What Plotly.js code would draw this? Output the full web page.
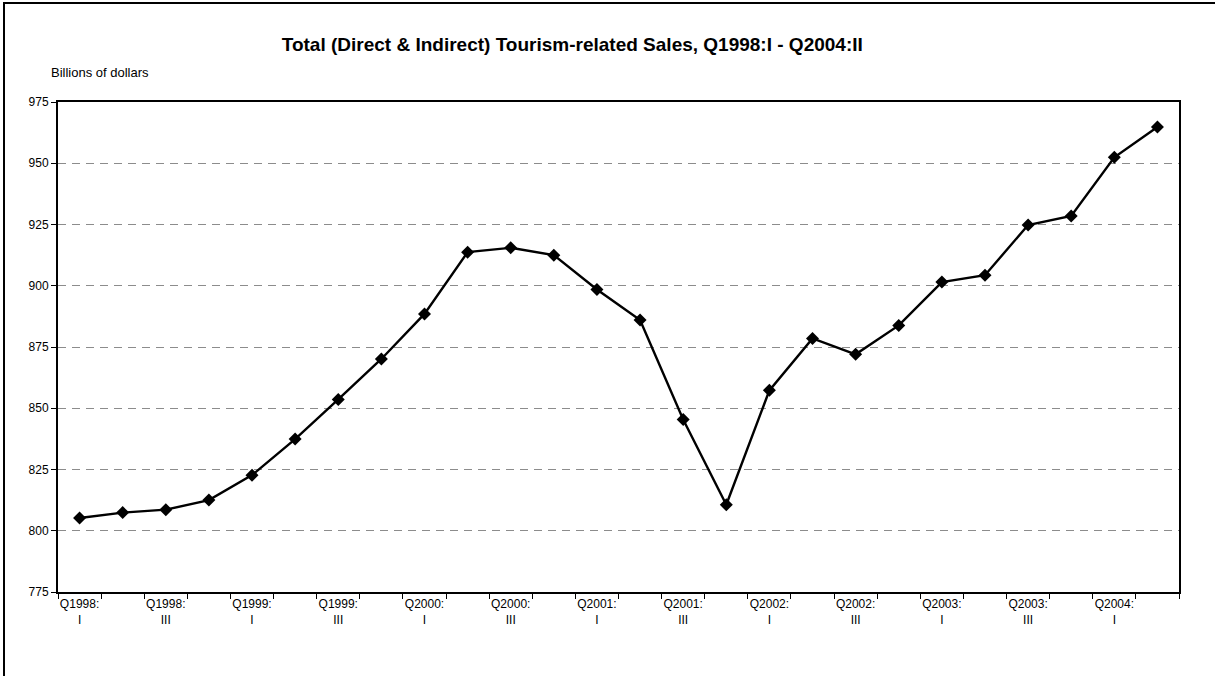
<!DOCTYPE html>
<html>
<head>
<meta charset="utf-8">
<script src="https://cdn.plot.ly/plotly-3.0.1.min.js"></script>
<style>
  html, body { margin: 0; padding: 0; width: 1215px; height: 676px; overflow: hidden; background: #fff; }
  #frame { position: absolute; left: 3px; top: 2px; width: 1400px; height: 900px; border: 2px solid #000; box-sizing: border-box; pointer-events: none; }
  #chart { position: absolute; left: 0; top: 0; width: 1215px; height: 676px; }
</style>
</head>
<body>
<div id="chart"></div>
<div id="frame"></div>
<script>
const quarters = [
  "Q1998:I","Q1998:II","Q1998:III","Q1998:IV",
  "Q1999:I","Q1999:II","Q1999:III","Q1999:IV",
  "Q2000:I","Q2000:II","Q2000:III","Q2000:IV",
  "Q2001:I","Q2001:II","Q2001:III","Q2001:IV",
  "Q2002:I","Q2002:II","Q2002:III","Q2002:IV",
  "Q2003:I","Q2003:II","Q2003:III","Q2003:IV",
  "Q2004:I","Q2004:II"
];
const sales = [
  805.2, 807.4, 808.6, 812.5,
  822.7, 837.4, 853.6, 870.1,
  888.5, 913.7, 915.5, 912.5,
  898.5, 886.0, 845.4, 810.6,
  857.3, 878.5, 872.0, 883.8,
  901.5, 904.3, 924.8, 928.5,
  952.4, 964.8
];
const yTicks = [775, 800, 825, 850, 875, 900, 925, 950, 975];
const titleText = "Total (Direct & Indirect) Tourism-related Sales, Q1998:I - Q2004:II";
const yUnit = "Billions of dollars";

// label every other quarter, split into two lines
const tickText = quarters.map((q, i) => {
  if (i % 2 !== 0) return "";
  const parts = q.split(":");
  return parts[0] + ":<br>" + parts[1];
});

const trace = {
  type: "scatter",
  mode: "lines+markers",
  x: quarters,
  y: sales,
  line: { color: "#000", width: 2.4 },
  marker: { symbol: "diamond", color: "#000", size: 10 },
  hoverinfo: "x+y"
};

const layout = {
  width: 1215, height: 676,
  margin: { l: 58, r: 36, t: 102, b: 84 },
  paper_bgcolor: "rgba(0,0,0,0)",
  plot_bgcolor: "#fff",
  showlegend: false,
  font: { family: "Liberation Sans, Arial, sans-serif", size: 12, color: "#000" },
  title: {
    text: "<b>" + titleText + "</b>",
    font: { family: "Liberation Sans, Arial, sans-serif", size: 19, color: "#000" },
    xref: "container", x: 0.471, xanchor: "center",
    yref: "container", y: 0.935, yanchor: "middle"
  },
  xaxis: {
    type: "category",
    tickmode: "array",
    tickvals: quarters,
    ticktext: tickText,
    tickson: "boundaries",
    ticks: "outside", ticklen: 5, tickwidth: 1, tickcolor: "#000",
    showline: true, linecolor: "#000", linewidth: 2, mirror: true,
    showgrid: false, zeroline: false,
    tickangle: 0,
    tickfont: { size: 12, color: "#000" },
    range: [-0.5, quarters.length - 0.5]
  },
  yaxis: {
    range: [775, 975],
    tickmode: "array",
    tickvals: yTicks,
    ticks: "outside", ticklen: 5, tickwidth: 1, tickcolor: "#000",
    showline: true, linecolor: "#000", linewidth: 2, mirror: true,
    showgrid: true, gridcolor: "#8c8c8c", gridwidth: 1, griddash: "8px,6px",
    zeroline: false,
    tickfont: { size: 12, color: "#000" }
  },
  annotations: [{
    text: yUnit, xref: "paper", yref: "paper",
    x: -0.008, xanchor: "left", y: 1.061, yanchor: "middle",
    showarrow: false, font: { size: 13, color: "#000" }
  }]
};

Plotly.newPlot("chart", [trace], layout, { displayModeBar: false, staticPlot: true });
</script>
</body>
</html>
